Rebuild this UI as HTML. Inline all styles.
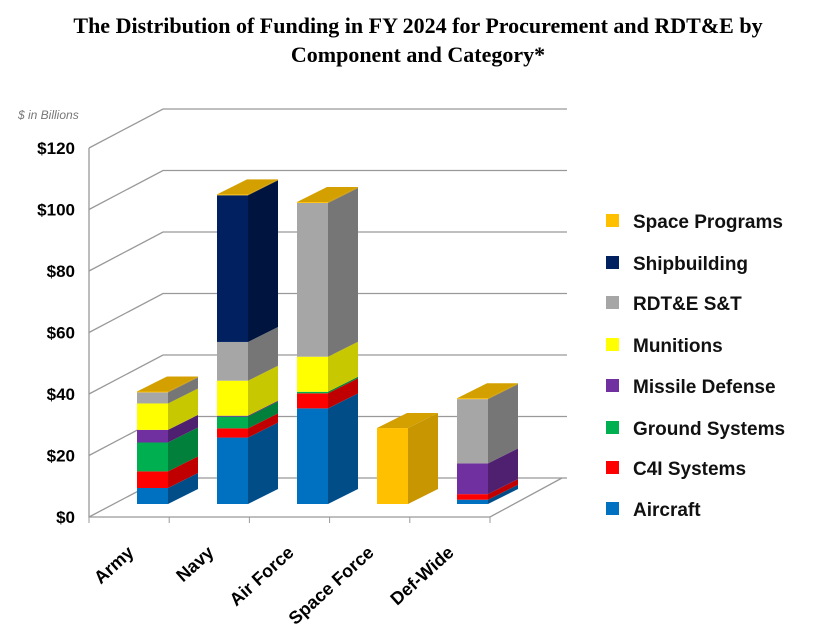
<!DOCTYPE html>
<html><head><meta charset="utf-8"><style>
body{margin:0;background:#fff;}
svg{display:block;}
</style></head><body>
<svg id="chart" width="835" height="640" viewBox="0 0 835 640" xmlns="http://www.w3.org/2000/svg">
<text x="418" y="33" text-anchor="middle" font-family="Liberation Serif, serif" font-weight="bold" font-size="22">The Distribution of Funding in FY 2024 for Procurement and RDT&amp;E by</text>
<text x="418" y="62" text-anchor="middle" font-family="Liberation Serif, serif" font-weight="bold" font-size="22">Component and Category*</text>
<text x="18" y="119" font-family="Liberation Sans, sans-serif" font-style="italic" font-size="12" fill="#777">$ in Billions</text>
<g id="grid"></g><g id="bars"></g><g id="labels"></g><g id="legend"></g>
</svg>
<script>
const categories = ["Army","Navy","Air Force","Space Force","Def-Wide"];
const seriesNames = ["Aircraft","C4I Systems","Ground Systems","Missile Defense","Munitions","RDT&E S&T","Shipbuilding","Space Programs"];
const aircraft = [5.2, 21.6, 31.1, 0, 1.4];
const c4i = [5.4, 3.0, 4.9, 0, 1.8];
const ground = [9.4, 3.8, 0.5, 0, 0];
const missile = [4.1, 0.3, 0, 0, 10.0];
const munitions = [8.6, 11.4, 11.4, 0, 0];
const rdte = [3.6, 12.6, 50.0, 0, 20.9];
const shipbuilding = [0, 47.7, 0, 0, 0];
const spacePrograms = [0.3, 0.3, 0.3, 24.7, 0.3];
const yTicks = [0,20,40,60,80,100,120];

const series = [aircraft,c4i,ground,missile,munitions,rdte,shipbuilding,spacePrograms];
const front = ["#0070c0","#ff0000","#00b050","#7030a0","#ffff00","#a6a6a6","#002060","#ffc000"];
const side  = ["#004d88","#c00000","#00803a","#4f2070","#c8c800","#767676","#001440","#c89600"];
const NS="http://www.w3.org/2000/svg";
const svg=document.getElementById('chart');
function mk(tag,attrs,parent){const e=document.createElementNS(NS,tag);for(const k in attrs)e.setAttribute(k,attrs[k]);parent.appendChild(e);return e;}
const yFront=v=>517-v*(369/120);
const DX=74, DY=-39;
const grid=document.getElementById('grid');
yTicks.forEach(t=>{
  const y=yFront(t);
  const l=mk('polyline',{points:`${89},${y} ${89+DX},${y+DY} 567,${y+DY}`,fill:'none',stroke:'#999','stroke-width':1.3},grid);
  
  
  const tx=mk('text',{x:75,y:y+6,'text-anchor':'end','font-family':'Liberation Sans, sans-serif','font-weight':'bold','font-size':17},grid);
  tx.textContent='$'+t;
  
  
});
const ax=mk('polyline',{points:`89,${yFront(120)} 89,517 490,517 562,478`,fill:'none',stroke:'#999','stroke-width':1.3},grid);


for(let i=0;i<=5;i++){const x=89+i*80.2;const tk=mk('line',{x1:x,y1:517,x2:x,y2:523,stroke:'#999'},grid);

}
const bars=document.getElementById('bars');
const W=31, BD=30, BDY=-15, BASE=504, SC=369/120;
categories.forEach((c,i)=>{
  const x0=137+i*80;
  let cum=0;
  const g=mk('g',{},bars);
  
  
  series.forEach((s,k)=>{
    const v=s[i]; if(v<=0) return;
    const yb=BASE-cum*SC, yt=BASE-(cum+v)*SC;
    const f=mk('rect',{x:x0,y:yt,width:W,height:yb-yt,fill:front[k]},g);
    
    
    const sd=mk('polygon',{points:`${x0+W},${yb} ${x0+W+BD},${yb+BDY} ${x0+W+BD},${yt+BDY} ${x0+W},${yt}`,fill:side[k]},g);
    
    
    cum+=v;
  });
  const yt=BASE-cum*SC;
  const top=mk('polygon',{points:`${x0},${yt} ${x0+BD},${yt+BDY} ${x0+W+BD},${yt+BDY} ${x0+W},${yt}`,fill:'#d4a000'},g);
  
  
  const lb=mk('text',{x:0,y:0,'text-anchor':'end','font-family':'Liberation Sans, sans-serif','font-weight':'bold','font-size':18,transform:`translate(${x0-2},554) rotate(-42)`},document.getElementById('labels'));
  lb.textContent=c;
  
  
});
const leg=document.getElementById('legend');
const ly=[509,468,428,386,345,303,263,221];
seriesNames.forEach((n,k)=>{
  const g=mk('g',{},leg);
  
  
  mk('rect',{x:606,y:ly[k]-7,width:13,height:13,fill:front[k]},g);
  const t=mk('text',{x:633,y:ly[k]+7,'font-family':'Liberation Sans, sans-serif','font-weight':'bold','font-size':19,fill:'#111'},g);
  t.textContent=n;
});
</script>
</body></html>
